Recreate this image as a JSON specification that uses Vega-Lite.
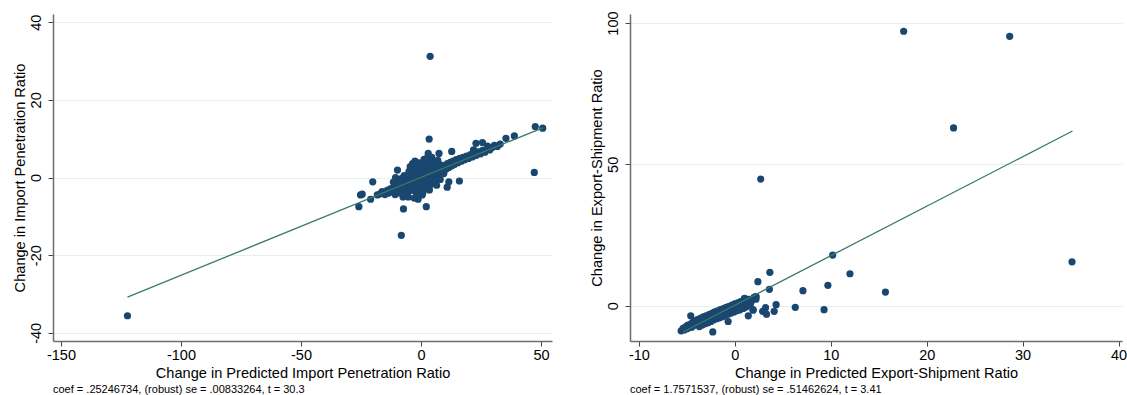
{
  "$schema": "https://vega.github.io/schema/vega-lite/v6.json",
  "autosize": {"type": "pad"},
  "padding": {"left": 12, "top": 10, "right": 0, "bottom": 0},
  "background": "white",
  "bounds": "flush",
  "spacing": 78,
  "config": {
    "font": "Liberation Sans",
    "view": {"stroke": null},
    "axis": {
      "labelFont": "Liberation Sans", "titleFont": "Liberation Sans",
      "labelFontSize": 14.5, "titleFontSize": 14.6, "titleFontWeight": "normal",
      "labelColor": "#000", "titleColor": "#000",
      "domainColor": "#6d6d6d", "domainWidth": 1.5,
      "tickColor": "#444", "tickSize": 5, "tickWidth": 1,
      "gridColor": "#e6eef0", "gridWidth": 1,
      "labelExpr": "replace(datum.label, '\u2212', '-')"
    },
    "axisX": {"grid": false, "labelPadding": 2, "titlePadding": 4, "labelFlush": false},
    "axisY": {"grid": true, "labelAngle": -90, "labelPadding": 5, "titlePadding": 1, "labelFlush": false},
    "title": {"font": "Liberation Sans", "fontSize": 11, "fontWeight": "normal", "color": "#000", "orient": "bottom", "anchor": "start", "frame": "group", "offset": 4}
  },
  "datasets": {
    "left": [
      {"x": -122.3, "y": -35.6}, {"x": 3.8, "y": 31.2}, {"x": 47.6, "y": 13.1}, {"x": 50.7, "y": 12.7}, {"x": 47.2, "y": 1.3},
      {"x": 35.4, "y": 10.1}, {"x": 38.9, "y": 10.7}, {"x": 3.4, "y": 9.9}, {"x": -8.2, "y": -14.9}, {"x": -7.3, "y": -8.1},
      {"x": 2.2, "y": -7.5}, {"x": -25.9, "y": -7.5}, {"x": -25.2, "y": -4.5}, {"x": -21.0, "y": -5.6}, {"x": -20.1, "y": -1.1},
      {"x": -9.8, "y": 1.9}, {"x": -10.6, "y": 0.0}, {"x": 3.0, "y": 6.2}, {"x": 7.5, "y": 6.2}, {"x": 12.8, "y": 6.7},
      {"x": 16.0, "y": -0.9}, {"x": 11.6, "y": -1.1}, {"x": 10.9, "y": -2.5}, {"x": -1.8, "y": 3.8}, {"x": 1.3, "y": 4.7},
      {"x": 22.9, "y": 8.8}, {"x": 25.6, "y": 9.0}, {"x": 21.9, "y": 7.1}, {"x": -24.5, "y": -4.3}, {"x": -18.2, "y": -4.5},
      {"x": -15.4, "y": -3.8},
      {"x": -17.0, "y": -4.2}, {"x": -16.2, "y": -3.6}, {"x": -15.0, "y": -4.4}, {"x": -14.1, "y": -3.3}, {"x": -13.5, "y": -4.0},
      {"x": -12.8, "y": -2.9}, {"x": -12.0, "y": -3.6}, {"x": -11.4, "y": -2.6}, {"x": -11.0, "y": -3.9}, {"x": -10.5, "y": -2.2},
      {"x": -10.0, "y": -3.1}, {"x": -9.6, "y": -1.8}, {"x": -9.2, "y": -2.8}, {"x": -8.8, "y": -3.4}, {"x": -8.4, "y": -1.5},
      {"x": -8.0, "y": -2.4}, {"x": -7.6, "y": -3.2}, {"x": -7.2, "y": -1.1}, {"x": -6.9, "y": -2.0}, {"x": -6.5, "y": -2.9},
      {"x": -6.1, "y": -0.8}, {"x": -5.8, "y": -1.7}, {"x": -5.5, "y": -3.6}, {"x": -5.1, "y": -0.5}, {"x": -4.8, "y": -1.4},
      {"x": -4.5, "y": -2.5}, {"x": -4.2, "y": 0.6}, {"x": -3.9, "y": -1.0}, {"x": -3.6, "y": -2.2}, {"x": -3.3, "y": -0.3},
      {"x": -3.0, "y": -1.6}, {"x": -2.7, "y": 1.2}, {"x": -2.4, "y": -0.7}, {"x": -2.1, "y": -2.6}, {"x": -1.8, "y": 0.3},
      {"x": -1.5, "y": -1.2}, {"x": -1.2, "y": 0.9}, {"x": -0.9, "y": -0.4}, {"x": -0.6, "y": -1.9}, {"x": -0.3, "y": 0.5},
      {"x": 0.0, "y": -0.6}, {"x": 0.3, "y": 1.4}, {"x": 0.6, "y": 0.1}, {"x": 0.9, "y": -1.3}, {"x": 1.2, "y": 0.8},
      {"x": 1.5, "y": -0.2}, {"x": 1.8, "y": 2.0}, {"x": 2.1, "y": 0.6}, {"x": 2.4, "y": -0.9}, {"x": 2.7, "y": 1.3},
      {"x": 3.0, "y": 0.2}, {"x": 3.3, "y": 2.4}, {"x": 3.6, "y": 1.0}, {"x": 3.9, "y": -0.3}, {"x": 4.2, "y": 1.8},
      {"x": 4.5, "y": 0.7}, {"x": 4.8, "y": 2.9}, {"x": 5.1, "y": 1.4}, {"x": 5.4, "y": 0.3}, {"x": 5.7, "y": 2.2},
      {"x": 6.0, "y": 1.1}, {"x": 6.4, "y": 3.0}, {"x": 6.8, "y": 1.7}, {"x": 7.2, "y": 0.6}, {"x": 7.6, "y": 2.5},
      {"x": 8.0, "y": 1.5}, {"x": 8.5, "y": 3.2}, {"x": 9.0, "y": 2.0}, {"x": 9.5, "y": 1.0}, {"x": 10.0, "y": 3.0},
      {"x": 10.5, "y": 2.2}, {"x": 11.0, "y": 3.6}, {"x": 11.6, "y": 2.6}, {"x": 12.2, "y": 3.9}, {"x": 12.8, "y": 3.0},
      {"x": 13.4, "y": 4.2}, {"x": 14.0, "y": 3.4}, {"x": 14.7, "y": 4.6}, {"x": 15.4, "y": 3.8}, {"x": 16.1, "y": 4.9},
      {"x": 16.8, "y": 4.2}, {"x": 17.5, "y": 5.2}, {"x": 18.2, "y": 4.6}, {"x": 19.0, "y": 5.5}, {"x": 19.8, "y": 4.9},
      {"x": 20.6, "y": 5.9}, {"x": 21.4, "y": 5.3}, {"x": 22.2, "y": 6.2}, {"x": 23.0, "y": 5.7}, {"x": 23.9, "y": 6.6},
      {"x": 24.8, "y": 6.1}, {"x": 25.7, "y": 7.0}, {"x": 26.6, "y": 6.5}, {"x": 27.7, "y": 8.1}, {"x": 28.6, "y": 7.1},
      {"x": 29.6, "y": 7.7}, {"x": 30.6, "y": 8.3}, {"x": 31.8, "y": 8.0}, {"x": 33.0, "y": 8.6},
      {"x": -9.0, "y": -1.0}, {"x": -8.0, "y": -0.2}, {"x": -7.0, "y": 0.5}, {"x": -6.0, "y": -4.0}, {"x": -5.0, "y": 1.6},
      {"x": -4.0, "y": -3.3}, {"x": -3.0, "y": 2.3}, {"x": -2.0, "y": -3.8}, {"x": -1.0, "y": 2.6}, {"x": 0.0, "y": -3.0},
      {"x": 1.0, "y": 3.3}, {"x": 2.0, "y": -2.4}, {"x": 3.0, "y": 3.8}, {"x": 4.0, "y": -1.8}, {"x": 5.0, "y": 4.1},
      {"x": 6.0, "y": -1.2}, {"x": 7.0, "y": 4.4}, {"x": 8.0, "y": -0.5}, {"x": -7.5, "y": -5.0}, {"x": -6.5, "y": -4.6},
      {"x": -4.5, "y": 2.8}, {"x": -3.5, "y": 3.6}, {"x": -1.5, "y": -4.2}, {"x": 0.5, "y": -4.5}, {"x": 1.5, "y": 4.3},
      {"x": 2.5, "y": 5.0}, {"x": 4.5, "y": 5.2}, {"x": 6.5, "y": -2.0}, {"x": -2.5, "y": 4.2}, {"x": -0.5, "y": 3.8},
      {"x": 3.5, "y": -3.2}, {"x": 5.5, "y": -0.6}, {"x": -11.5, "y": -1.2}, {"x": -10.8, "y": -4.4}, {"x": -9.8, "y": -4.0},
      {"x": -8.6, "y": -0.6}, {"x": -5.3, "y": -5.0}, {"x": -2.8, "y": -5.3}, {"x": -1.2, "y": -5.6}, {"x": 0.8, "y": -3.9}
    ],
    "leftLine": [{"x": -122.3, "y": -30.8}, {"x": 50.7, "y": 12.8}],
    "right": [
      {"x": 17.6, "y": 97.1}, {"x": 28.65, "y": 95.3}, {"x": 22.8, "y": 62.9}, {"x": 2.7, "y": 44.8}, {"x": 35.15, "y": 15.5},
      {"x": 10.2, "y": 17.9}, {"x": 12.0, "y": 11.3}, {"x": 15.7, "y": 4.8}, {"x": 9.7, "y": 7.2}, {"x": 7.1, "y": 5.3},
      {"x": 6.3, "y": -0.6}, {"x": 9.3, "y": -1.4}, {"x": 3.65, "y": 11.8}, {"x": 3.6, "y": 5.8}, {"x": 2.4, "y": 8.5},
      {"x": 2.2, "y": 3.2}, {"x": 2.2, "y": 2.3}, {"x": 1.0, "y": 2.6}, {"x": 1.3, "y": 1.7}, {"x": 4.3, "y": 0.35},
      {"x": 4.1, "y": -2.0}, {"x": 3.3, "y": -3.0}, {"x": 2.9, "y": -2.0}, {"x": 3.2, "y": -0.7}, {"x": 1.9, "y": -1.5},
      {"x": 1.4, "y": -3.6}, {"x": 0.9, "y": -0.9},
      {"x": -5.6, "y": -8.9}, {"x": -5.4, "y": -8.0}, {"x": -5.3, "y": -8.6}, {"x": -5.1, "y": -7.4}, {"x": -5.0, "y": -8.2},
      {"x": -4.9, "y": -6.9}, {"x": -4.8, "y": -7.8}, {"x": -4.6, "y": -3.6}, {"x": -4.6, "y": -6.5}, {"x": -4.5, "y": -7.6},
      {"x": -4.4, "y": -5.9}, {"x": -4.3, "y": -7.0}, {"x": -4.2, "y": -5.4}, {"x": -4.0, "y": -6.6}, {"x": -3.9, "y": -4.9},
      {"x": -3.8, "y": -6.1}, {"x": -3.7, "y": -7.4}, {"x": -3.6, "y": -4.5}, {"x": -3.5, "y": -5.7}, {"x": -3.4, "y": -6.8},
      {"x": -3.3, "y": -4.0}, {"x": -3.2, "y": -5.2}, {"x": -3.1, "y": -6.4}, {"x": -3.0, "y": -3.6}, {"x": -2.9, "y": -4.8},
      {"x": -2.8, "y": -6.0}, {"x": -2.7, "y": -3.2}, {"x": -2.6, "y": -4.4}, {"x": -2.5, "y": -5.6}, {"x": -2.4, "y": -2.7},
      {"x": -2.3, "y": -9.3}, {"x": -2.3, "y": -3.9}, {"x": -2.2, "y": -5.0}, {"x": -2.1, "y": -2.2}, {"x": -2.0, "y": -3.5},
      {"x": -1.9, "y": -4.6}, {"x": -1.8, "y": -1.8}, {"x": -1.7, "y": -3.0}, {"x": -1.6, "y": -4.3}, {"x": -1.5, "y": -1.4},
      {"x": -1.4, "y": -2.6}, {"x": -1.3, "y": -3.9}, {"x": -1.2, "y": -1.0}, {"x": -1.1, "y": -2.2}, {"x": -1.0, "y": -3.4},
      {"x": -0.9, "y": -0.6}, {"x": -0.8, "y": -1.8}, {"x": -0.7, "y": -5.6}, {"x": -0.7, "y": -3.0}, {"x": -0.6, "y": -0.2},
      {"x": -0.5, "y": -1.4}, {"x": -0.4, "y": -2.6}, {"x": -0.3, "y": 0.2}, {"x": -0.2, "y": -1.0}, {"x": -0.1, "y": -2.2},
      {"x": 0.0, "y": 0.6}, {"x": 0.1, "y": -0.6}, {"x": 0.2, "y": -1.8}, {"x": 0.3, "y": 1.0}, {"x": 0.4, "y": -0.2},
      {"x": 0.5, "y": -1.5}, {"x": 0.6, "y": 1.4}, {"x": 0.7, "y": 0.2}, {"x": 0.8, "y": -1.0}, {"x": 0.9, "y": 1.8},
      {"x": 1.0, "y": 0.6}, {"x": 1.1, "y": 2.4}, {"x": 1.2, "y": -0.4}, {"x": 1.3, "y": 1.0}, {"x": 1.5, "y": 2.2},
      {"x": 1.6, "y": 0.3}, {"x": 1.7, "y": 1.4}, {"x": 1.9, "y": -1.5}, {"x": 2.0, "y": 2.9}, {"x": 2.2, "y": 3.2}
    ],
    "rightLine": [{"x": -5.4, "y": -9.3}, {"x": 35.2, "y": 61.8}]
  },
  "hconcat": [
    {
      "width": 499, "height": 327,
      "title": {"text": "coef = .25246734, (robust) se = .00833264, t = 30.3"},
      "layer": [
        {
          "data": {"name": "left"},
          "mark": {"type": "circle", "size": 52, "color": "#1a476f", "opacity": 1},
          "encoding": {
            "x": {"field": "x", "type": "quantitative", "scale": {"domain": [-153.33, 54.58], "nice": false, "zero": false},
                  "axis": {"values": [-150, -100, -50, 0, 50], "title": "Change in Predicted Import Penetration Ratio"}},
            "y": {"field": "y", "type": "quantitative", "scale": {"domain": [-42.1, 42.1], "nice": false, "zero": false},
                  "axis": {"values": [-40, -20, 0, 20, 40], "title": "Change in Import Penetration Ratio"}}
          }
        },
        {
          "data": {"name": "leftLine"},
          "mark": {"type": "line", "color": "#3a7a68", "strokeWidth": 1.3},
          "encoding": {
            "x": {"field": "x", "type": "quantitative"},
            "y": {"field": "y", "type": "quantitative"}
          }
        }
      ]
    },
    {
      "width": 492, "height": 327,
      "title": {"text": "coef = 1.7571537, (robust) se = .51462624, t = 3.41"},
      "layer": [
        {
          "data": {"name": "right"},
          "mark": {"type": "circle", "size": 52, "color": "#1a476f", "opacity": 1},
          "encoding": {
            "x": {"field": "x", "type": "quantitative", "scale": {"domain": [-10.93, 40.36], "nice": false, "zero": false},
                  "axis": {"values": [-10, 0, 10, 20, 30, 40], "title": "Change in Predicted Export-Shipment Ratio"}},
            "y": {"field": "y", "type": "quantitative", "scale": {"domain": [-12.5, 103.2], "nice": false, "zero": false},
                  "axis": {"values": [0, 50, 100], "title": "Change in Export-Shipment Ratio"}}
          }
        },
        {
          "data": {"name": "rightLine"},
          "mark": {"type": "line", "color": "#3a7a68", "strokeWidth": 1.3},
          "encoding": {
            "x": {"field": "x", "type": "quantitative"},
            "y": {"field": "y", "type": "quantitative"}
          }
        }
      ]
    }
  ]
}
